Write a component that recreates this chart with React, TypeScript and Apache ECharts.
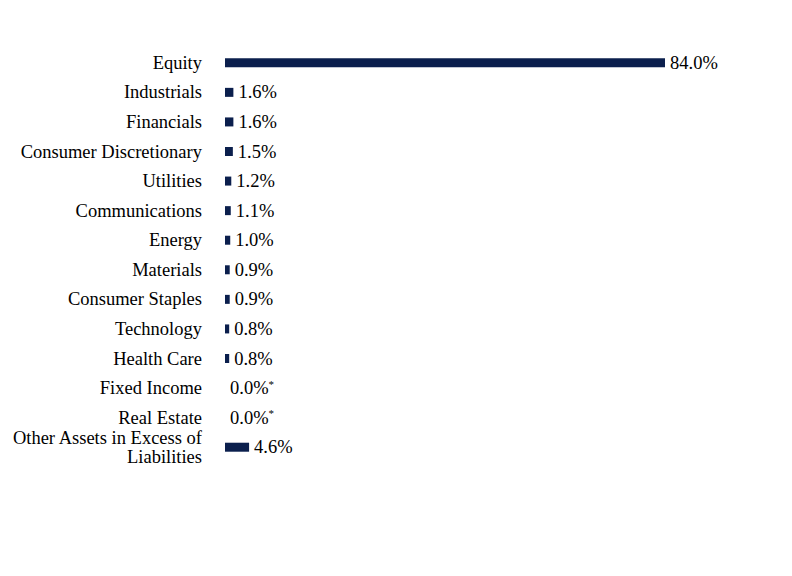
import * as React from "react";
import * as echarts from "echarts";

// 섹터별 비중(%) — 위에서부터 순서대로
const categories = [
  "Equity",
  "Industrials",
  "Financials",
  "Consumer Discretionary",
  "Utilities",
  "Communications",
  "Energy",
  "Materials",
  "Consumer Staples",
  "Technology",
  "Health Care",
  "Fixed Income",
  "Real Estate",
  "Other Assets in Excess of\nLiabilities",
];
const weights = [84.0, 1.6, 1.6, 1.5, 1.2, 1.1, 1.0, 0.9, 0.9, 0.8, 0.8, 0.0, 0.0, 4.6];
// 0.0%에는 각주 표시(*)
const footnoted = [false, false, false, false, false, false, false, false, false, false, false, true, true, false];

const NAVY = "#0b1f4d";
const FONT = "Liberation Serif";

export default function App() {
  const ref = React.useRef<HTMLDivElement | null>(null);

  React.useEffect(() => {
    if (!ref.current) return;
    const chart = echarts.init(ref.current, undefined, { renderer: "svg" });
    chart.setOption({
      animation: false,
      backgroundColor: "#ffffff",
      textStyle: { fontFamily: FONT },
      grid: { left: 225, top: 48, width: 440, height: 414, containLabel: false },
      xAxis: { type: "value", min: 0, max: 84, show: false },
      yAxis: {
        type: "category",
        inverse: true,
        data: categories,
        axisLine: { show: false },
        axisTick: { show: false },
        splitLine: { show: false },
        axisLabel: {
          interval: 0,
          margin: 23,
          color: "#000",
          fontFamily: FONT,
          fontSize: 18.5,
          lineHeight: 19,
          align: "right",
          verticalAlign: "middle",
          padding: [0, 0, 2, 0],
        },
      },
      series: [
        {
          type: "bar",
          barWidth: 9,
          itemStyle: { color: NAVY },
          data: weights.map((v, i) => ({
            value: v,
            label: footnoted[i]
              ? {
                  show: true,
                  position: "right",
                  distance: 5,
                  formatter: `{a|${v.toFixed(1)}%}{s|*}`,
                  rich: {
                    a: { fontFamily: FONT, fontSize: 18.5, color: "#000" },
                    s: { fontFamily: FONT, fontSize: 11, color: "#000", verticalAlign: "top", padding: [0, 0, 9, 0] },
                  },
                }
              : {
                  show: true,
                  position: "right",
                  distance: 5,
                  fontFamily: FONT,
                  fontSize: 18.5,
                  color: "#000",
                  formatter: `${v.toFixed(1)}%`,
                },
          })),
        },
      ],
    });
    return () => chart.dispose();
  }, []);

  return (
    <div style={{ margin: -8 }}>
      <div ref={ref} style={{ width: 792, height: 576 }} />
    </div>
  );
}
